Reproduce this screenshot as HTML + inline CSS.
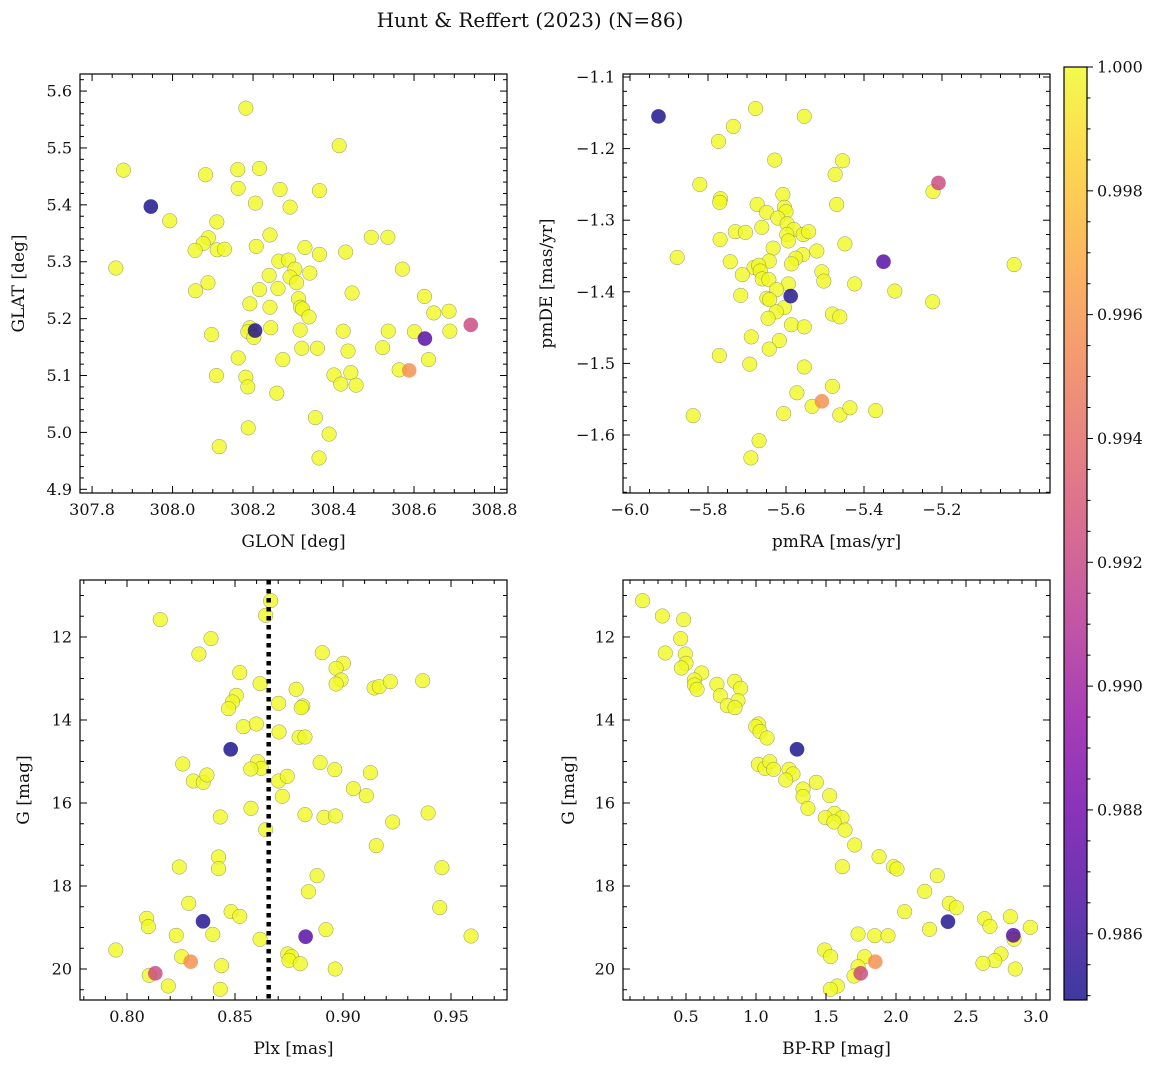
<!DOCTYPE html>
<html><head><meta charset="utf-8">
<style>
html,body{margin:0;padding:0;background:#fff;}
svg{display:block;font-family:"DejaVu Serif","Liberation Serif",serif;}
</style></head>
<body>
<svg id="fig" width="1161" height="1067" viewBox="0 0 1161 1067" xmlns="http://www.w3.org/2000/svg">
<rect width="1161" height="1067" fill="#fff"/>
<text x="530" y="27" font-size="20" text-anchor="middle" fill="#111">Hunt &amp; Reffert (2023) (N=86)</text>
</svg>
<script>
// membership probability of the 5 non-unity stars (blue, blue, purple, pink, orange); all others are 1.0
const specialProb = [0.9850, 0.9852, 0.9869, 0.9922, 0.9958];
const vmin = 0.98493, vmax = 1.0;
const cbarTicks = [0.986, 0.988, 0.990, 0.992, 0.994, 0.996, 0.998, 1.000];

// Panel 1: GLON / GLAT
const glon = [307.946,308.205,308.627,308.741,308.588,
308.182,308.414,307.878,308.082,308.162,308.216,308.163,308.267,308.365,308.206,308.292,307.993,308.110,308.089,308.076,308.056,308.111,308.129,308.242,308.208,308.329,308.365,308.430,308.494,308.535,307.859,308.264,308.288,308.304,308.240,308.292,308.308,308.341,308.088,308.057,308.216,308.262,308.571,308.446,308.192,308.242,308.313,308.318,308.323,308.339,308.626,308.649,308.687,308.689,308.601,308.536,308.522,308.563,308.636,308.424,308.436,308.360,308.321,308.317,308.244,308.192,308.187,308.202,308.097,308.163,308.274,308.109,308.182,308.187,308.259,308.401,308.418,308.443,308.456,308.355,308.389,308.364,308.188,308.116];
const glat = [5.397,5.179,5.165,5.189,5.109,
5.570,5.504,5.461,5.453,5.462,5.464,5.429,5.427,5.425,5.403,5.396,5.372,5.370,5.342,5.332,5.320,5.321,5.322,5.347,5.327,5.325,5.313,5.317,5.343,5.343,5.289,5.301,5.303,5.287,5.276,5.273,5.263,5.280,5.263,5.249,5.251,5.253,5.287,5.245,5.226,5.220,5.235,5.220,5.217,5.203,5.239,5.210,5.213,5.178,5.177,5.178,5.149,5.110,5.128,5.178,5.143,5.148,5.148,5.180,5.184,5.184,5.177,5.167,5.172,5.131,5.128,5.100,5.097,5.080,5.069,5.101,5.085,5.105,5.083,5.026,4.997,4.955,5.008,4.975];

// Panel 2: pmRA / pmDE
const pmra = [-5.927,-5.588,-5.350,-5.209,-5.508,
-5.678,-5.553,-5.735,-5.773,-5.629,-5.455,-5.474,-5.821,-5.223,-5.608,-5.768,-5.770,-5.674,-5.604,-5.600,-5.470,-5.650,-5.621,-5.597,-5.662,-5.730,-5.704,-5.580,-5.598,-5.594,-5.556,-5.542,-5.769,-5.633,-5.521,-5.449,-5.557,-5.575,-5.586,-5.643,-5.743,-5.879,-5.682,-5.670,-5.666,-5.712,-5.661,-5.644,-5.508,-5.503,-5.594,-5.624,-5.424,-5.321,-5.015,-5.716,-5.649,-5.642,-5.604,-5.625,-5.646,-5.224,-5.481,-5.462,-5.586,-5.553,-5.689,-5.617,-5.643,-5.771,-5.693,-5.553,-5.481,-5.572,-5.533,-5.606,-5.462,-5.436,-5.370,-5.838,-5.669,-5.690];
const pmde = [-1.155,-1.406,-1.358,-1.248,-1.553,
-1.144,-1.155,-1.169,-1.190,-1.216,-1.217,-1.236,-1.250,-1.260,-1.264,-1.270,-1.275,-1.278,-1.282,-1.288,-1.278,-1.289,-1.297,-1.305,-1.310,-1.316,-1.317,-1.313,-1.320,-1.329,-1.320,-1.316,-1.327,-1.339,-1.343,-1.333,-1.348,-1.353,-1.361,-1.357,-1.358,-1.352,-1.366,-1.363,-1.371,-1.376,-1.382,-1.383,-1.372,-1.385,-1.389,-1.397,-1.389,-1.399,-1.362,-1.405,-1.409,-1.411,-1.422,-1.428,-1.437,-1.414,-1.431,-1.435,-1.446,-1.449,-1.463,-1.468,-1.480,-1.489,-1.501,-1.505,-1.532,-1.541,-1.560,-1.570,-1.572,-1.562,-1.566,-1.573,-1.608,-1.632];

// Panel 3: parallax / G
const plx = [0.8480,0.8352,0.8827,0.8131,0.8295,
0.8665,0.8642,0.8154,0.8389,0.8333,0.8904,0.9002,0.8968,0.8522,0.8616,0.8991,0.8968,0.8783,0.9144,0.9168,0.9219,0.9369,0.8506,0.8488,0.8470,0.8702,0.8814,0.8807,0.8539,0.8599,0.8704,0.8797,0.8824,0.8258,0.8605,0.8622,0.8573,0.8894,0.8962,0.9127,0.8307,0.8353,0.8370,0.8702,0.8742,0.8719,0.9048,0.9108,0.8574,0.8432,0.8824,0.8912,0.8965,0.9230,0.9394,0.8642,0.9154,0.8424,0.8424,0.8242,0.9458,0.8880,0.8840,0.8286,0.9448,0.8482,0.8522,0.8091,0.8099,0.8228,0.8397,0.8616,0.8921,0.9593,0.7948,0.8253,0.8103,0.8438,0.8191,0.8432,0.8744,0.8762,0.8750,0.8802,0.8964];
const gmag3 = [14.707,18.852,19.221,20.105,19.824,
11.125,11.478,11.582,12.040,12.410,12.378,12.634,12.755,12.859,13.124,13.036,13.133,13.261,13.229,13.197,13.076,13.052,13.406,13.566,13.727,13.598,13.663,13.703,14.161,14.096,14.289,14.418,14.410,15.060,15.004,15.165,15.181,15.028,15.197,15.269,15.470,15.502,15.325,15.470,15.357,15.839,15.655,15.823,16.129,16.337,16.281,16.345,16.313,16.458,16.241,16.643,17.028,17.301,17.582,17.542,17.558,17.751,18.137,18.418,18.522,18.618,18.731,18.779,18.980,19.189,19.165,19.285,19.052,19.205,19.542,19.703,20.153,19.920,20.410,20.490,19.638,19.703,19.791,19.872,20.000];
const meanPlx = 0.8656;

// Panel 4: BP-RP / G
const bprp = [1.293,2.371,2.838,1.748,1.852,
0.190,0.331,0.483,0.462,0.495,0.352,0.500,0.467,0.612,0.560,0.560,0.579,0.721,0.745,0.848,0.890,0.871,0.795,0.850,1.017,0.998,1.029,1.079,1.017,1.064,1.098,1.126,1.236,1.264,1.212,1.336,1.431,1.336,1.526,1.371,1.560,1.495,1.614,1.557,1.636,1.705,1.879,1.617,1.983,2.007,2.295,2.205,2.381,2.431,2.062,2.633,2.671,2.817,2.960,2.240,1.729,1.848,1.943,2.843,1.490,1.533,1.776,1.729,1.700,2.750,2.705,2.621,2.852,1.581,1.531];
const gmag4 = [14.707,18.860,19.189,20.105,19.824,
11.125,11.494,11.582,12.040,12.410,12.386,12.634,12.747,12.867,13.036,13.157,13.261,13.141,13.414,13.068,13.237,13.534,13.655,13.703,14.096,14.161,14.281,14.434,15.068,15.165,15.004,15.189,15.189,15.301,15.446,15.663,15.502,15.847,15.823,16.129,16.249,16.353,16.353,16.458,16.651,17.012,17.293,17.534,17.534,17.590,17.751,18.129,18.418,18.522,18.618,18.787,18.972,18.739,18.996,19.044,19.157,19.197,19.197,19.285,19.542,19.703,19.703,19.944,20.169,19.638,19.799,19.863,20.000,20.410,20.490];

// tick values
const p1xTicks=[307.8,308.0,308.2,308.4,308.6,308.8], p1yTicks=[4.9,5.0,5.1,5.2,5.3,5.4,5.5,5.6];
const p2xTicks=[-6.0,-5.8,-5.6,-5.4,-5.2], p2yTicks=[-1.6,-1.5,-1.4,-1.3,-1.2,-1.1];
const p3xTicks=[0.80,0.85,0.90,0.95], gTicks=[12,14,16,18,20];
const p4xTicks=[0.5,1.0,1.5,2.0,2.5,3.0];

const NS='http://www.w3.org/2000/svg';
const svg=document.getElementById('fig');
function mk(tag,attrs,parent){const e=document.createElementNS(NS,tag);for(const k in attrs)e.setAttribute(k,attrs[k]);(parent||svg).appendChild(e);return e;}

const plasma=[[13,8,135],[65,4,157],[106,0,168],[143,13,164],[177,42,144],[204,71,120],[225,100,98],[242,132,75],[252,166,54],[252,206,37],[240,249,33]];
function cmap(v){let t=(v-vmin)/(vmax-vmin);t=Math.max(0,Math.min(1,t));const f=t*10,i=Math.min(9,Math.floor(f)),u=f-i;const a=plasma[i],b=plasma[i+1];return 'rgb('+[0,1,2].map(k=>Math.round(a[k]+(b[k]-a[k])*u)).join(',')+')';}
function probOf(i){return i<specialProb.length?specialProb[i]:1.0;}
function fmt(v,d){return (v<0?'\u2212':'')+Math.abs(v).toFixed(d);}

function panel(o){
  const g=mk('g',{});
  
  
  const sx=v=>o.x0+(v-o.xmin)/(o.xmax-o.xmin)*(o.x1-o.x0);
  const sy=o.yinv?(v=>o.y0+(v-o.ymin)/(o.ymax-o.ymin)*(o.y1-o.y0)):(v=>o.y1-(v-o.ymin)/(o.ymax-o.ymin)*(o.y1-o.y0));
  const order=o.xs.map((_,i)=>i).sort((a,b)=>probOf(b)-probOf(a));
  const pg=mk('g',{},g);
  for(const i of order){
    const c=mk('circle',{cx:sx(o.xs[i]),cy:sy(o.ys[i]),r:7.3,fill:cmap(probOf(i)),'fill-opacity':0.8,stroke:'#666','stroke-opacity':probOf(i)>0.999?0.7:0,'stroke-width':0.5},pg);
    
    
  }
  if(o.vline!==undefined){
    const l=mk('line',{x1:sx(o.vline),x2:sx(o.vline),y1:o.y0,y2:o.y1,stroke:'#000','stroke-width':4.5,'stroke-dasharray':'4.5,4.5'},g);
    
    
  }
  const fr=mk('rect',{x:o.x0,y:o.y0,width:o.x1-o.x0,height:o.y1-o.y0,fill:'none',stroke:'#000','stroke-width':1.2},g);
  
  
  const tg=mk('g',{stroke:'#000','stroke-width':1},g);
  const eps=1e-9;
  for(let v=Math.ceil(o.xmin/o.xminor-eps)*o.xminor;v<=o.xmax+eps;v+=o.xminor){
    const X=sx(v);const major=o.xt.some(t=>Math.abs(t-v)<o.xminor/3);const L=major?7:4;
    mk('line',{x1:X,x2:X,y1:o.y1,y2:o.y1-L},tg);mk('line',{x1:X,x2:X,y1:o.y0,y2:o.y0+L},tg);
  }
  for(let v=Math.ceil(o.ymin/o.yminor-eps)*o.yminor;v<=o.ymax+eps;v+=o.yminor){
    const Y=sy(v);const major=o.yt.some(t=>Math.abs(t-v)<o.yminor/3);const L=major?7:4;
    mk('line',{x1:o.x0,x2:o.x0+L,y1:Y,y2:Y},tg);mk('line',{x1:o.x1,x2:o.x1-L,y1:Y,y2:Y},tg);
  }
  for(const t of o.xt){const e=mk('text',{x:sx(t),y:o.y1+22,'font-size':16,'text-anchor':'middle',fill:'#111'},g);e.textContent=fmt(t,o.xd);
    
    }
  for(const t of o.yt){const e=mk('text',{x:o.x0-8,y:sy(t)+5.5,'font-size':16,'text-anchor':'end',fill:'#111'},g);e.textContent=fmt(t,o.yd);
    
    }
  const xl=mk('text',{x:(o.x0+o.x1)/2,y:o.y1+54,'font-size':17,'text-anchor':'middle',fill:'#111'},g);xl.textContent=o.xlabel;
  
  
  const yx=o.x0-o.ylOff, yy=(o.y0+o.y1)/2;
  const yl=mk('text',{x:yx,y:yy,'font-size':17,'text-anchor':'middle',fill:'#111',transform:'rotate(-90 '+yx+' '+yy+')'},g);yl.textContent=o.ylabel;
  
  
}

panel({name:'glon-glat-panel',xs:glon,ys:glat,x0:80,x1:507,y0:74,y1:493,xmin:307.770,xmax:308.831,ymin:4.8935,ymax:5.630,xt:p1xTicks,yt:p1yTicks,xminor:0.05,yminor:0.02,xd:1,yd:1,ylOff:56,xlabel:'GLON [deg]',ylabel:'GLAT [deg]'});
panel({name:'proper-motion-panel',xs:pmra,ys:pmde,x0:623,x1:1050,y0:74,y1:493,xmin:-6.018,xmax:-4.923,ymin:-1.681,ymax:-1.0958,xt:p2xTicks,yt:p2yTicks,xminor:0.05,yminor:0.02,xd:1,yd:1,ylOff:71,xlabel:'pmRA [mas/yr]',ylabel:'pmDE [mas/yr]'});
panel({name:'parallax-magnitude-panel',xs:plx,ys:gmag3,x0:80,x1:507,y0:580,y1:1000,xmin:0.77824,xmax:0.97593,ymin:10.627,ymax:20.747,yinv:true,xt:p3xTicks,yt:gTicks,xminor:0.01,yminor:0.5,xd:2,yd:0,vline:meanPlx,ylOff:51,xlabel:'Plx [mas]',ylabel:'G [mag]'});
panel({name:'color-magnitude-panel',xs:bprp,ys:gmag4,x0:623,x1:1050,y0:580,y1:1000,xmin:0.05,xmax:3.1,ymin:10.627,ymax:20.747,yinv:true,xt:p4xTicks,yt:gTicks,xminor:0.1,yminor:0.5,xd:1,yd:0,ylOff:49,xlabel:'BP-RP [mag]',ylabel:'G [mag]'});

// colorbar
(function(){
  const x0=1064,x1=1087,y0=67,y1=1000;
  const defs=mk('defs',{});
  const lg=mk('linearGradient',{id:'plasmaGrad',x1:0,y1:1,x2:0,y2:0},defs);
  plasma.forEach((c,i)=>mk('stop',{offset:(i/10),'stop-color':'rgb('+c.join(',')+')','stop-opacity':0.8},lg));
  const g=mk('g',{});
  
  
  mk('rect',{x:x0,y:y0,width:x1-x0,height:y1-y0,fill:'url(#plasmaGrad)'},g);
  mk('rect',{x:x0,y:y0,width:x1-x0,height:y1-y0,fill:'none',stroke:'#000','stroke-width':1.2},g);
  const sy=v=>y1-(v-vmin)/(vmax-vmin)*(y1-y0);
  for(let k=0;;k++){const v=0.9850+k*0.0005;if(v>vmax+1e-9)break;const Y=sy(v);
    const major=cbarTicks.some(t=>Math.abs(t-v)<1e-6);
    mk('line',{x1:x1,x2:x1+(major?6:3.5),y1:Y,y2:Y,stroke:'#000','stroke-width':1},g);}
  for(const t of cbarTicks){const e=mk('text',{x:x1+10,y:sy(t)+5.5,'font-size':16,fill:'#111'},g);e.textContent=t.toFixed(3);
    
    }
})();
</script>
</body></html>
